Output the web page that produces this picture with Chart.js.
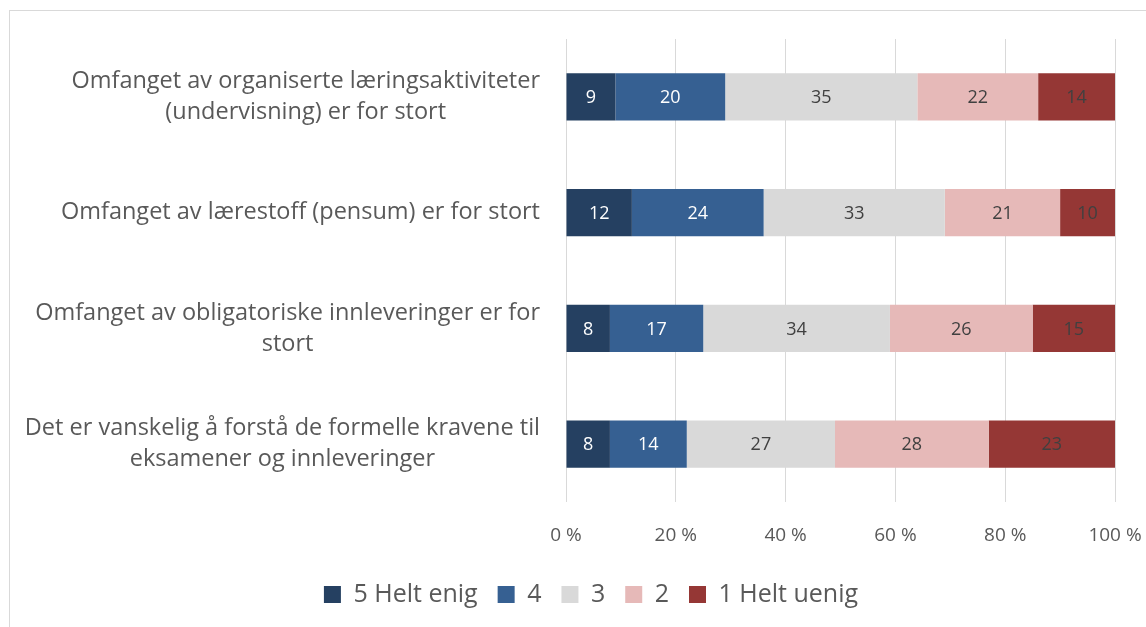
<!DOCTYPE html>
<html lang="no">
<head>
    <meta charset="UTF-8">
    <title>Arbeidsmengde</title>
    <style>
        body {
            margin: 0;
            background: #fff;
            overflow: hidden;
            width: 1146px;
            height: 627px;
        }
        .frame {
            position: absolute;
            left: 9px;
            top: 10px;
            width: 1300px;
            height: 700px;
            border: 1px solid #d9d9d9;
        }
        .chart-box {
            position: absolute;
            left: 10px;
            top: 11px;
            width: 1162px;
            height: 616px;
        }
    </style>
</head>
<body>
    <div class="frame"></div>
    <div class="chart-box">
        <canvas id="chart"></canvas>
    </div>

    <script src="https://cdn.jsdelivr.net/npm/chart.js"></script>
    <script>
        // Survey statements (wrapped as in the original)
        const categories = [
            ['Omfanget av organiserte læringsaktiviteter', '(undervisning) er for stort'],
            ['Omfanget av lærestoff (pensum) er for stort'],
            ['Omfanget av obligatoriske innleveringer er for', 'stort'],
            ['Det er vanskelig å forstå de formelle kravene til', 'eksamener og innleveringer']
        ];

        const seriesNames = ['5 Helt enig', '4', '3', '2', '1 Helt uenig'];

        // percent per answer
        const heltEnig = [9, 12, 8, 8];
        const svar4 = [20, 24, 17, 14];
        const svar3 = [35, 33, 34, 27];
        const svar2 = [22, 21, 26, 28];
        const heltUenig = [14, 10, 15, 23];

        const xTicks = [0, 20, 40, 60, 80, 100];

        const colors = ['#254061', '#366092', '#d9d9d9', '#e6b9b8', '#953735'];
        const labelColors = ['#ffffff', '#ffffff', '#404040', '#404040', '#404040'];
        const fontFamily = '"Open Sans", sans-serif';

        const allSeries = [heltEnig, svar4, svar3, svar2, heltUenig];

        // values inside the bars
        const barLabels = {
            id: 'barLabels',
            afterDatasetsDraw(chart) {
                const ctx = chart.ctx;
                ctx.save();
                ctx.font = '18px ' + fontFamily;
                ctx.textAlign = 'center';
                ctx.textBaseline = 'middle';
                chart.data.datasets.forEach((ds, i) => {
                    const meta = chart.getDatasetMeta(i);
                    meta.data.forEach((bar, j) => {
                        ctx.fillStyle = labelColors[i];
                        ctx.fillText(ds.data[j], (bar.x + bar.base) / 2, bar.y + 1);
                    });
                });
                ctx.restore();
            }
        };

        // category labels: block right aligned, lines centred inside the block
        const categoryLabels = {
            id: 'categoryLabels',
            afterDraw(chart) {
                const ctx = chart.ctx;
                const yScale = chart.scales.y;
                const right = chart.chartArea.left - 26;
                const lineHeight = 31;
                ctx.save();
                ctx.font = '23.5px ' + fontFamily;
                ctx.fillStyle = '#595959';
                ctx.textAlign = 'center';
                ctx.textBaseline = 'middle';
                categories.forEach((lines, i) => {
                    const widest = Math.max(...lines.map(l => ctx.measureText(l).width));
                    const cx = right - widest / 2;
                    const cy = yScale.getPixelForValue(i);
                    const top = cy - (lines.length - 1) * lineHeight / 2;
                    lines.forEach((line, k) => {
                        ctx.fillText(line, cx, top + k * lineHeight);
                    });
                });
                ctx.restore();
            }
        };

        const ctx = document.getElementById('chart').getContext('2d');
        new Chart(ctx, {
            type: 'bar',
            data: {
                labels: categories,
                datasets: allSeries.map((values, i) => ({
                    label: seriesNames[i],
                    data: values,
                    backgroundColor: colors[i],
                    borderWidth: 0,
                    categoryPercentage: 0.41,
                    barPercentage: 1
                }))
            },
            options: {
                indexAxis: 'y',
                responsive: true,
                maintainAspectRatio: false,
                animation: false,
                layout: {
                    padding: { top: 28, right: 57, bottom: 10, left: 57 }
                },
                scales: {
                    x: {
                        stacked: true,
                        min: 0,
                        max: 100,
                        afterBuildTicks: s => { s.ticks = xTicks.map(v => ({ value: v })); },
                        afterFit: s => { s.height = 60; },
                        border: { display: false },
                        grid: { color: '#d9d9d9', lineWidth: 1, drawTicks: false },
                        ticks: {
                            padding: 22,
                            color: '#595959',
                            font: { family: fontFamily, size: 19 },
                            callback: v => v + ' %'
                        }
                    },
                    y: {
                        stacked: true,
                        afterFit: s => { s.width = 499; },
                        border: { display: false },
                        grid: { display: false },
                        ticks: { display: false }
                    }
                },
                plugins: {
                    legend: {
                        position: 'bottom',
                        labels: {
                            color: '#595959',
                            font: { family: fontFamily, size: 25 },
                            boxWidth: 17,
                            boxHeight: 17,
                            padding: 20
                        }
                    },
                    tooltip: { enabled: false }
                }
            },
            plugins: [barLabels, categoryLabels]
        });
    </script>
</body>
</html>
